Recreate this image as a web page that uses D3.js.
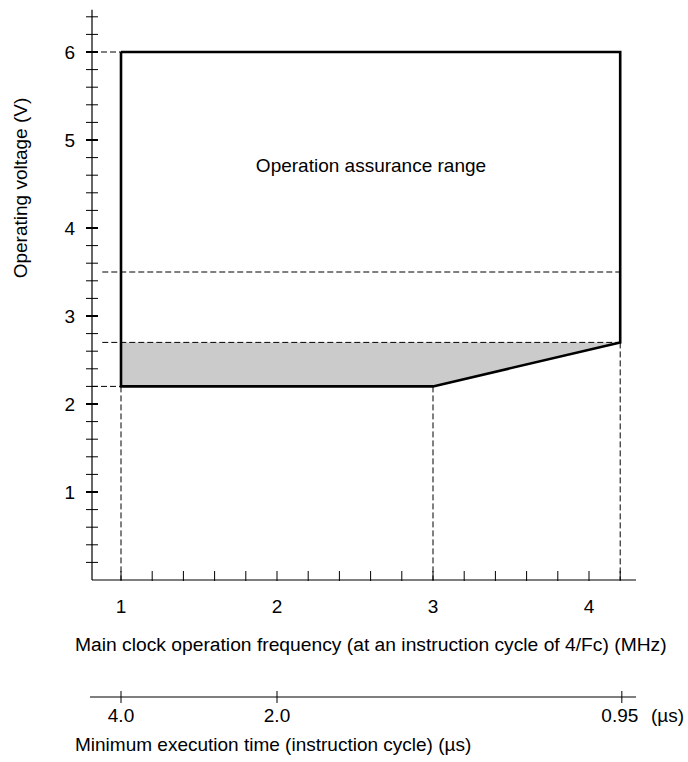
<!DOCTYPE html>
<html><head><meta charset="utf-8">
<script src="https://cdn.jsdelivr.net/npm/d3@7"></script>
<style>
html,body{margin:0;padding:0;background:#fff;}
svg text{font-family:"Liberation Sans",Arial,sans-serif;fill:#000;}
</style></head>
<body><svg id="c" width="688" height="762"></svg>
<script>
// ---- data ----
const freqTickLabels = [1, 2, 3, 4];
const voltTickLabels = [1, 2, 3, 4, 5, 6];
const outlinePts = [[1, 6], [4.2, 6], [4.2, 2.7], [3, 2.2], [1, 2.2], [1, 6]];
const shadedPts = [[1, 2.7], [4.2, 2.7], [3, 2.2], [1, 2.2]];
// horizontal guides: [voltage, fromFreq (null = axis), toFreq]
const hGuides = [[6, null, 1], [3.5, 0.88, 4.2], [2.7, 0.88, 4.2], [2.2, null, 1]];
// vertical guides: [freq, fromVolt, toVolt]
const vGuides = [[1, 2.2, 0], [3, 2.2, 0], [4.2, 2.7, 0]];
const execTimes = [4.0, 2.0, 0.95];
const execLabels = ["4.0", "2.0", "0.95"];
const regionLabel = "Operation assurance range";
const yTitle = "Operating voltage (V)";
const xTitle = "Main clock operation frequency (at an instruction cycle of 4/Fc) (MHz)";
const x2Title = "Minimum execution time (instruction cycle) (\u00b5s)";
const x2Unit = "(\u00b5s)";

// ---- scales ----
const x = d3.scaleLinear().domain([1, 4]).range([121, 589]);
const y = d3.scaleLinear().domain([0, 6]).range([580, 52]);
const axX = 92, axY = y(0), axRight = 636;
const FS = 19;

const svg = d3.select("#c");
const line = d3.line().x(d => x(d[0])).y(d => y(d[1]));

// shaded area
svg.append("path").attr("d", line(shadedPts) + "Z").attr("fill", "#cbcbcb").attr("stroke", "none");

// guides
const g = svg.append("g").attr("stroke", "#000").attr("stroke-width", 1).attr("stroke-dasharray", "6,3");
hGuides.forEach(([v, f0, f1]) => {
  g.append("line").attr("x1", f0 === null ? axX : x(f0)).attr("x2", x(f1)).attr("y1", y(v)).attr("y2", y(v));
});
vGuides.forEach(([f, v0, v1]) => {
  g.append("line").attr("x1", x(f)).attr("x2", x(f)).attr("y1", y(v0)).attr("y2", y(v1));
});

// y axis
svg.append("line").attr("x1", axX).attr("x2", axX).attr("y1", y(6.48)).attr("y2", axY).attr("stroke", "#000").attr("stroke-width", 1.2);
const yMinor = d3.range(1, 33).map(i => i * 0.2);
yMinor.forEach(v => {
  const major = Math.abs(v - Math.round(v)) < 1e-6;
  svg.append("line").attr("x1", axX - 6).attr("x2", axX + 6).attr("y1", y(v)).attr("y2", y(v))
    .attr("stroke", "#000").attr("stroke-width", major ? 2 : 1);
});
svg.append("g").selectAll("text").data(voltTickLabels).join("text")
  .attr("x", 75).attr("y", d => y(d)).attr("dy", "0.35em").attr("text-anchor", "end")
  .attr("font-size", FS).text(d => d);

// x axis
svg.append("line").attr("x1", axX).attr("x2", axRight).attr("y1", axY).attr("y2", axY).attr("stroke", "#000").attr("stroke-width", 1.2);
const xMinor = d3.range(0, 17).map(i => 1 + i * 0.2);
xMinor.forEach(f => {
  svg.append("line").attr("x1", x(f)).attr("x2", x(f)).attr("y1", axY - 9).attr("y2", axY + 1)
    .attr("stroke", "#000").attr("stroke-width", 1);
});
svg.append("g").selectAll("text").data(freqTickLabels).join("text")
  .attr("x", d => x(d)).attr("y", axY + 33).attr("text-anchor", "middle")
  .attr("font-size", FS).text(d => d);

// outline
svg.append("path").attr("d", line(outlinePts)).attr("fill", "none").attr("stroke", "#000")
  .attr("stroke-width", 2.6).attr("stroke-linejoin", "miter");

// labels
svg.append("text").attr("x", 371).attr("y", 172).attr("text-anchor", "middle").attr("font-size", FS).text(regionLabel);
svg.append("text").attr("transform", `translate(27,188) rotate(-90)`).attr("text-anchor", "middle").attr("font-size", FS).text(yTitle);
svg.append("text").attr("x", 75).attr("y", 651).attr("font-size", 19.25).text(xTitle);

// second axis (execution time)
const ax2Y = 697;
svg.append("line").attr("x1", 90).attr("x2", axRight).attr("y1", ax2Y).attr("y2", ax2Y).attr("stroke", "#000").attr("stroke-width", 1.2);
execTimes.forEach((t, i) => {
  const px = x(4 / t);
  svg.append("line").attr("x1", px).attr("x2", px).attr("y1", ax2Y - 6).attr("y2", ax2Y + 6).attr("stroke", "#000").attr("stroke-width", 1);
  svg.append("text").attr("x", px - (i === 2 ? 2 : 0)).attr("y", ax2Y + 25).attr("text-anchor", "middle").attr("font-size", FS).text(execLabels[i]);
});
svg.append("text").attr("x", 651).attr("y", ax2Y + 25).attr("font-size", FS).text(x2Unit);
svg.append("text").attr("x", 75).attr("y", 751).attr("font-size", FS).text(x2Title);
</script></body></html>
